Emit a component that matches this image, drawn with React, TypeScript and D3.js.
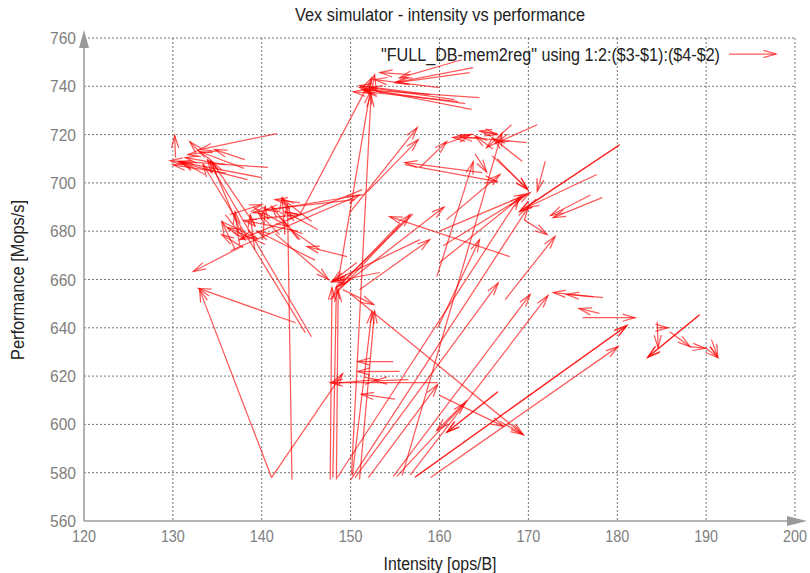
import React from "react";
import * as d3 from "d3";

// arrow columns: start (intensity, performance) -> end (intensity, performance)
const intensityFrom = [
  163.6, 162.9, 161.7, 158.9, 160.0, 164.5, 162.1, 163.8, 163.4, 156.7, 152.4, 144.3, 148.6, 150.1, 162.5, 152.4,
  141.7, 140.7, 140.0, 138.4, 130.3, 133.6, 137.5, 139.2, 145.6, 144.9, 135.2, 138.0, 136.0, 135.9, 133.6, 138.1,
  137.9, 143.8, 141.1, 141.1, 143.4, 151.3, 151.6, 150.5, 144.3, 137.0, 149.6, 150.7, 140.1, 142.6, 137.5, 145.6,
  136.5, 137.9, 141.5, 146.0, 139.0, 144.0, 135.5, 136.4, 139.2, 144.3, 146.3, 140.4, 135.9, 142.0, 146.5, 138.7,
  147.7, 148.0, 148.4, 157.8, 153.3, 150.2, 151.0, 149.1, 150.0, 157.0, 155.5, 148.6, 147.7, 151.0,
  149.9, 151.9, 160.8, 160.4, 159.7, 164.8, 156.1, 167.9, 155.8, 159.8,
  157.8, 169.8, 171.0, 168.1, 166.5, 165.0, 164.0, 166.5, 171.9, 165.9, 180.3, 180.2, 177.7, 178.3, 177.0, 167.4,
  169.5, 160.0, 160.0, 148.5, 150.0, 160.5, 164.5, 166.0, 169.3,
  150.5, 154.8, 156.7, 155.2, 166.6, 166.5, 163.1, 159.8, 156.5, 154.8, 155.5, 155.0, 160.0, 152.0, 148.0,
  157.2, 157.3, 159.0,
  178.4, 177.3, 178.0, 176.1, 184.5, 189.3, 189.2, 184.5, 185.9, 188.2, 189.9, 190.6, 166.8,
];
const perfFrom = [
  730.4, 732.8, 734.5, 736.6, 739.5, 735.3, 733.7, 747.7, 745.7, 744.8, 738.6, 686.9, 659.2, 579.3, 751.0, 737.0,
  720.4, 706.4, 702.2, 701.4, 710.5, 710.5, 680.7, 682.7, 636.3, 638.0, 713.4, 706.0, 704.0, 707.6, 703.5, 709.6,
  674.0, 642.1, 578.0, 578.0, 577.2, 697.2, 695.2, 693.1, 691.8, 672.4, 669.5, 667.0, 676.5, 678.6, 674.5, 684.0,
  672.0, 673.2, 679.0, 668.0, 690.0, 680.0, 684.0, 686.9, 672.4, 676.5, 680.7, 674.5, 686.9, 678.6, 672.4, 684.8,
  577.2, 578.0, 577.2, 676.5, 662.9, 579.0, 577.2, 655.8, 654.0, 687.0, 683.0, 656.0, 651.7, 655.8,
  687.7, 696.4, 684.8, 674.0, 661.2, 704.3, 707.6, 669.5, 578.8, 640.0,
  706.4, 716.7, 724.1, 724.1, 720.4, 721.0, 712.0, 710.0, 709.0, 711.3, 715.9, 715.6, 703.5, 693.9, 695.0, 651.7,
  684.8, 680.0, 667.0, 578.0, 577.0, 716.0, 718.5, 714.0, 709.0,
  578.0, 578.5, 579.0, 578.5, 613.6, 613.3, 610.0, 617.3, 618.5, 626.0, 622.0, 610.5, 612.0, 578.0, 617.0,
  578.0, 578.3, 578.0,
  652.5, 652.8, 646.0, 644.2, 642.5, 645.5, 645.2, 640.0, 638.4, 632.2, 631.8, 635.1, 601.2,
];
const intensityTo = [
  151.0, 151.6, 152.2, 151.0, 152.7, 151.3, 151.6, 155.0, 155.2, 153.3, 152.7, 152.4, 152.2, 152.3, 155.5, 150.3,
  133.0, 129.7, 130.6, 130.8, 130.2, 131.9, 134.2, 134.4, 133.9, 133.4, 131.7, 133.0, 130.0, 131.4, 131.0, 134.7,
  132.3, 132.9, 133.0, 149.1, 142.9, 137.5, 139.0, 140.4, 141.5, 135.5, 145.1, 147.9, 140.4, 142.3, 137.0, 142.3,
  151.0, 135.5, 147.5, 139.5, 143.0, 138.0, 139.5, 140.0, 138.7, 141.1, 142.6, 136.2, 138.1, 139.6, 143.2, 144.3,
  147.9, 148.4, 148.6, 147.9, 147.9, 152.4, 152.7, 152.6, 169.4, 148.4, 148.8, 160.5, 156.7, 158.9,
  157.5, 157.6, 166.8, 170.2, 163.8, 156.1, 166.5, 154.4, 167.0, 164.5,
  160.8, 162.3, 166.5, 165.3, 164.5, 166.5, 165.3, 169.9, 171.0, 169.9, 169.0, 169.1, 169.8, 172.8, 172.5, 173.0,
  172.1, 169.8, 169.3, 169.0, 170.0, 163.5, 161.5, 164.0, 166.0,
  166.6, 170.2, 172.2, 162.9, 160.8, 160.9, 159.7, 147.7, 152.7, 150.8, 150.8, 151.2, 167.2, 159.8, 153.0,
  181.1, 181.0, 180.1,
  172.8, 174.3, 175.7, 182.0, 184.6, 183.4, 183.5, 185.7, 188.2, 189.9, 191.3, 191.3, 169.4,
];
const perfTo = [
  739.5, 738.6, 739.5, 740.3, 742.8, 738.6, 737.8, 741.5, 741.5, 745.7, 744.8, 743.6, 737.8, 736.6, 743.5, 737.8,
  713.8, 709.2, 708.8, 708.4, 719.6, 717.1, 709.6, 708.8, 709.6, 707.6, 711.7, 713.0, 707.5, 710.5, 708.8, 713.8,
  663.3, 656.3, 655.8, 621.0, 691.0, 676.5, 687.7, 688.9, 693.1, 684.0, 673.6, 659.1, 690.2, 693.9, 688.1, 693.5,
  695.0, 678.6, 660.0, 680.0, 682.0, 684.5, 677.0, 691.0, 686.9, 690.2, 688.1, 681.5, 676.5, 687.7, 680.7, 686.9,
  656.7, 657.1, 655.8, 659.1, 659.1, 646.7, 647.0, 649.6, 595.8, 656.7, 657.5, 690.0, 686.9, 676.5,
  722.9, 717.9, 703.5, 696.0, 708.8, 708.4, 700.5, 686.0, 720.5, 676.5,
  717.1, 719.2, 716.7, 714.6, 721.5, 720.0, 704.5, 697.2, 696.5, 697.6, 688.1, 688.4, 689.8, 685.6, 686.5, 677.8,
  678.6, 695.2, 694.5, 694.0, 690.0, 720.0, 718.8, 719.5, 718.5,
  658.5, 653.8, 653.4, 609.0, 596.7, 596.9, 597.5, 617.3, 618.0, 626.0, 621.9, 612.5, 599.2, 616.5, 618.5,
  641.0, 640.6, 632.2,
  654.6, 653.8, 648.0, 644.2, 631.8, 627.7, 628.0, 640.0, 632.2, 631.5, 627.7, 628.0, 595.8,
];

const xTicks = [120, 130, 140, 150, 160, 170, 180, 190, 200];
const yTicks = [560, 580, 600, 620, 640, 660, 680, 700, 720, 740, 760];

const FONT = "'Liberation Sans Narrow', 'Arial Narrow', 'Liberation Sans', Arial, sans-serif";
const W = 810;
const H = 573;
const left = 84, right = 795, top = 38, bottom = 521;

function headPath(x1: number, y1: number, x2: number, y2: number, len = 13, ang = 0.28) {
  const a = Math.atan2(y2 - y1, x2 - x1);
  const p1 = [x2 - len * Math.cos(a - ang), y2 - len * Math.sin(a - ang)];
  const p2 = [x2 - len * Math.cos(a + ang), y2 - len * Math.sin(a + ang)];
  return `M${p1[0]},${p1[1]}L${x2},${y2}L${p2[0]},${p2[1]}`;
}

export default function App() {
  const x = d3.scaleLinear().domain([120, 200]).range([left, right]);
  const y = d3.scaleLinear().domain([560, 760]).range([bottom, top]);
  const axisColor = "#9a9a9a";

  return (
    <svg width={W} height={H} style={{ position: "absolute", left: 0, top: 0, background: "#fff" }}>
      {/* grid */}
      {xTicks.slice(1).map(t => (
        <line key={"gx" + t} x1={x(t)} x2={x(t)} y1={top} y2={bottom}
          stroke="#777" strokeWidth={1} strokeDasharray="2,2" />
      ))}
      {yTicks.slice(1).map(t => (
        <line key={"gy" + t} x1={left} x2={right} y1={y(t)} y2={y(t)}
          stroke="#777" strokeWidth={1} strokeDasharray="2,2" />
      ))}

      {/* axes with arrow ends */}
      <line x1={left} x2={left} y1={bottom} y2={top - 4} stroke={axisColor} strokeWidth={1.5} />
      <path d={`M${left},${top - 8}L${left - 5},${top + 10}L${left + 5},${top + 10}Z`} fill={axisColor} />
      <line x1={left} x2={right + 6} y1={bottom} y2={bottom} stroke={axisColor} strokeWidth={1.5} />
      <path d={`M${right + 12},${bottom}L${right - 8},${bottom - 5}L${right - 8},${bottom + 5}Z`} fill={axisColor} />

      {/* tick labels */}
      {xTicks.map(t => (
        <text key={"tx" + t} x={x(t)} y={bottom + 21} textAnchor="middle" fontFamily={FONT}
          fontSize={17} fill="#808080" textLength={24} lengthAdjust="spacingAndGlyphs">{t}</text>
      ))}
      {yTicks.map(t => (
        <text key={"ty" + t} x={left - 8} y={y(t) + 6} textAnchor="end" fontFamily={FONT}
          fontSize={17} fill="#808080" textLength={26} lengthAdjust="spacingAndGlyphs">{t}</text>
      ))}

      {/* arrows */}
      <g stroke="#ff0000" strokeOpacity={0.65} strokeWidth={1.25} fill="none">
        {intensityFrom.map((_, i) => {
          const x1 = x(intensityFrom[i]), y1 = y(perfFrom[i]);
          const x2 = x(intensityTo[i]), y2 = y(perfTo[i]);
          return (
            <g key={i}>
              <line x1={x1} y1={y1} x2={x2} y2={y2} />
              <path d={headPath(x1, y1, x2, y2)} />
            </g>
          );
        })}
      </g>

      {/* title and labels */}
      <text x={440} y={21} textAnchor="middle" fontFamily={FONT} fontSize={18} fill="#222"
        textLength={290} lengthAdjust="spacingAndGlyphs">Vex simulator - intensity vs performance</text>
      <text x={440} y={570} textAnchor="middle" fontFamily={FONT} fontSize={18} fill="#222"
        textLength={113} lengthAdjust="spacingAndGlyphs">Intensity [ops/B]</text>
      <text transform="translate(24,280) rotate(-90)" textAnchor="middle" fontFamily={FONT} fontSize={18} fill="#222"
        textLength={160} lengthAdjust="spacingAndGlyphs">Performance [Mops/s]</text>

      {/* legend */}
      <text x={720} y={61} textAnchor="end" fontFamily={FONT} fontSize={18} fill="#222"
        textLength={339} lengthAdjust="spacingAndGlyphs">"FULL_DB-mem2reg" using 1:2:($3-$1):($4-$2)</text>
      <g stroke="#ff0000" strokeOpacity={0.65} strokeWidth={1.25} fill="none">
        <line x1={729} y1={54} x2={776} y2={54} />
        <path d={headPath(729, 54, 776, 54)} />
      </g>
    </svg>
  );
}
